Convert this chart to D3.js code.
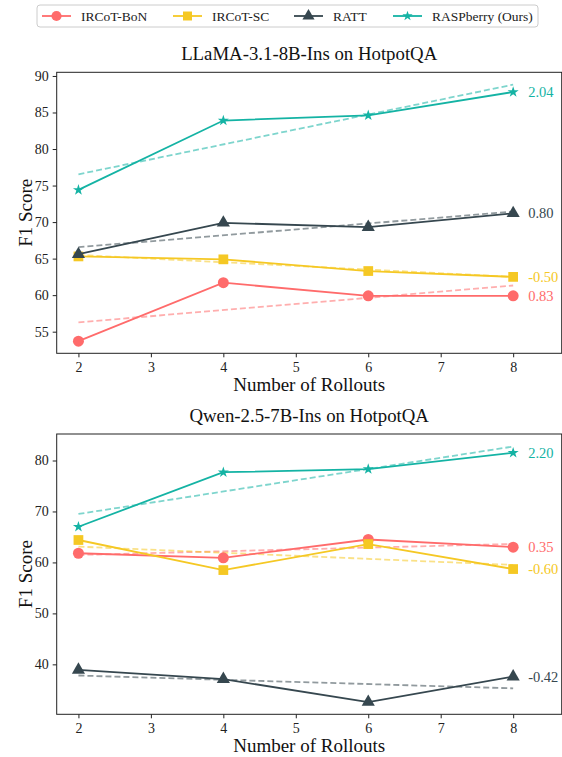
<!DOCTYPE html>
<html><head><meta charset="utf-8">
<script src="https://cdn.jsdelivr.net/npm/d3@7"></script>
<style>body{margin:0;background:#fff}svg{display:block}svg text{font-family:"Liberation Serif","Times New Roman",Tinos,Times,serif !important}</style>
</head><body><svg id="c" width="562" height="757"></svg>
<script>
const rollouts = [2, 4, 6, 8];
const seriesNames = ["IRCoT-BoN", "IRCoT-SC", "RATT", "RASPberry (Ours)"];
const colors = ["#ff6b6b", "#f5c824", "#36474f", "#14b3a4"];
const markers = ["circle", "square", "triangle", "star"];
const xTicks = [2, 3, 4, 5, 6, 7, 8];

const llamaTitle = "LLaMA-3.1-8B-Ins on HotpotQA";
const llamaBoN = [53.7, 61.7, 59.9, 59.9];
const llamaSC = [65.3, 64.9, 63.3, 62.5];
const llamaRATT = [65.6, 69.9, 69.3, 71.2];
const llamaRASP = [74.4, 83.9, 84.6, 87.8];
const llamaSlopes = ["0.83", "-0.50", "0.80", "2.04"];
const llamaYTicks = [55, 60, 65, 70, 75, 80, 85, 90];

const qwenTitle = "Qwen-2.5-7B-Ins on HotpotQA";
const qwenBoN = [61.8, 60.9, 64.5, 63.0];
const qwenSC = [64.4, 58.5, 63.6, 58.7];
const qwenRATT = [38.9, 37.1, 32.6, 37.6];
const qwenRASP = [67.0, 77.7, 78.3, 81.5];
const qwenSlopes = ["0.35", "-0.60", "-0.42", "2.20"];
const qwenYTicks = [40, 50, 60, 70, 80];

const svg = d3.select("#c");
const L = 56.7, R = 561.7;
const x = d3.scaleLinear().domain([1.7, 8.67]).range([L, R]);

function symPath(kind, size) {
  const t = {circle: d3.symbolCircle, square: d3.symbolSquare, triangle: d3.symbolTriangle, star: d3.symbolStar}[kind];
  return d3.symbol().type(t).size(size)();
}
const symSize = {circle: 95, square: 95, triangle: 75, star: 38};

function fit(ys) {
  const mx = d3.mean(rollouts), my = d3.mean(ys);
  let num = 0, den = 0;
  rollouts.forEach((xv, i) => { num += (xv - mx) * (ys[i] - my); den += (xv - mx) ** 2; });
  const b = num / den; return {b, a: my - b * mx};
}

function panel(top, bottom, ydom, yticks, title, data, slopes) {
  const y = d3.scaleLinear().domain(ydom).range([bottom, top]);
  const g = svg.append("g");
  g.append("g").attr("transform", `translate(0,${bottom})`)
    .call(d3.axisBottom(x).tickValues(xTicks).tickFormat(d3.format("d")).tickSize(4).tickPadding(5))
    .call(a => { a.select(".domain").remove(); a.selectAll("text").attr("font-size", 14).attr("fill", "#222"); a.selectAll("line").attr("stroke", "#222"); });
  g.append("g").attr("transform", `translate(${L},0)`)
    .call(d3.axisLeft(y).tickValues(yticks).tickSize(4).tickPadding(4))
    .call(a => { a.select(".domain").remove(); a.selectAll("text").attr("font-size", 14).attr("fill", "#222"); a.selectAll("line").attr("stroke", "#222"); });
  g.append("rect").attr("x", L).attr("y", top).attr("width", R - L).attr("height", bottom - top)
    .attr("fill", "none").attr("stroke", "#222").attr("stroke-width", 1);
  g.append("text").attr("x", (L + R) / 2).attr("y", top - 12).attr("text-anchor", "middle").attr("font-size", 18.8).attr("fill", "#111").text(title);
  g.append("text").attr("x", (L + R) / 2).attr("y", bottom + 38).attr("text-anchor", "middle").attr("font-size", 19).attr("fill", "#111").text("Number of Rollouts");
  g.append("text").attr("transform", `translate(32,${(top + bottom) / 2}) rotate(-90)`).attr("text-anchor", "middle").attr("font-size", 19).attr("fill", "#111").text("F1 Score");

  const line = d3.line().x((d, i) => x(rollouts[i])).y(d => y(d));
  data.forEach((ys, s) => {
    const f = fit(ys);
    g.append("line").attr("x1", x(rollouts[0])).attr("x2", x(rollouts[3]))
      .attr("y1", y(f.a + f.b * rollouts[0])).attr("y2", y(f.a + f.b * rollouts[3]))
      .attr("stroke", colors[s]).attr("stroke-opacity", 0.55).attr("stroke-width", 1.8).attr("stroke-dasharray", "6,3");
  });
  data.forEach((ys, s) => {
    g.append("path").attr("d", line(ys)).attr("fill", "none").attr("stroke", colors[s]).attr("stroke-width", 1.8);
    ys.forEach((v, i) => {
      g.append("path").attr("d", symPath(markers[s], symSize[markers[s]]))
        .attr("transform", `translate(${x(rollouts[i])},${y(v)})`).attr("fill", colors[s]);
    });
    g.append("text").attr("x", x(rollouts[3]) + 15).attr("y", y(ys[3])).attr("dy", "0.35em")
      .attr("font-size", 14.5).attr("fill", colors[s]).text(slopes[s]);
  });
}

panel(72.3, 353.3, [52.04, 90.5], llamaYTicks, llamaTitle, [llamaBoN, llamaSC, llamaRATT, llamaRASP], llamaSlopes);
panel(434, 714.3, [30.2, 85.2], qwenYTicks, qwenTitle, [qwenBoN, qwenSC, qwenRATT, qwenRASP], qwenSlopes);

const lg = svg.append("g");
lg.append("rect").attr("x", 37).attr("y", 5).attr("width", 501).attr("height", 22).attr("rx", 3)
  .attr("fill", "#fff").attr("stroke", "#ccc").attr("stroke-width", 1);
const lineX = [42, 173, 294, 393];
seriesNames.forEach((n, s) => {
  const x0 = lineX[s];
  lg.append("line").attr("x1", x0).attr("x2", x0 + 29).attr("y1", 16).attr("y2", 16).attr("stroke", colors[s]).attr("stroke-width", 1.8);
  lg.append("path").attr("d", symPath(markers[s], symSize[markers[s]] * 0.85)).attr("transform", `translate(${x0 + 14.5},16)`).attr("fill", colors[s]);
  lg.append("text").attr("x", x0 + 39).attr("y", 16).attr("dy", "0.35em").attr("font-size", 13.5).attr("fill", "#222").text(n);
});
</script></body></html>
